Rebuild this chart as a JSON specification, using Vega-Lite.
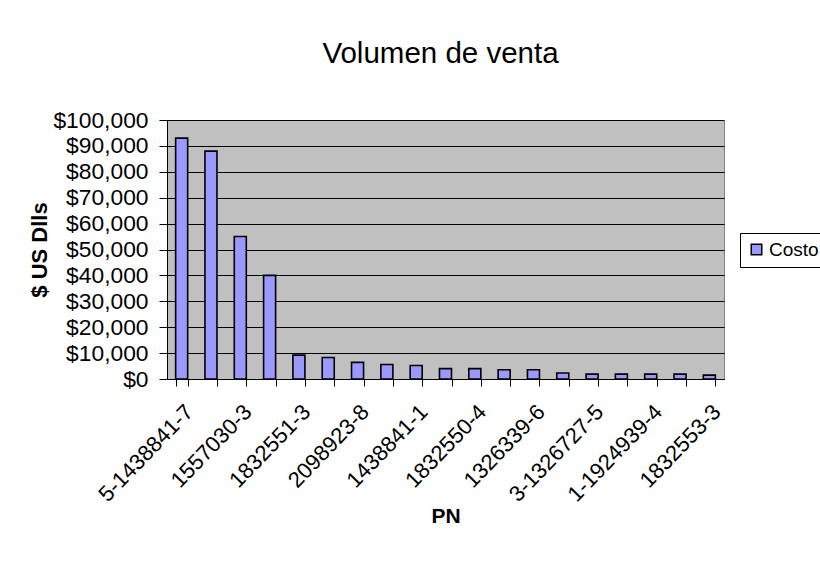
{
  "$schema": "https://vega.github.io/schema/vega-lite/v6.json",
  "autosize": {"type": "none"},
  "padding": {"left": 167, "top": 120, "right": 96, "bottom": 189},
  "width": 557,
  "height": 259,
  "background": "white",
  "title": {
    "text": "Volumen de venta",
    "font": "Liberation Sans",
    "fontSize": 29.5,
    "fontWeight": "normal",
    "color": "black",
    "anchor": "middle",
    "offset": 40,
    "dx": -5
  },
  "data": {
    "values": [
      {"pn": "5-1438841-7", "costo": 93000},
      {"pn": "#2", "costo": 88000},
      {"pn": "1557030-3", "costo": 55000},
      {"pn": "#4", "costo": 40000},
      {"pn": "1832551-3", "costo": 9200},
      {"pn": "#6", "costo": 8300},
      {"pn": "2098923-8", "costo": 6400},
      {"pn": "#8", "costo": 5600},
      {"pn": "1438841-1", "costo": 5200},
      {"pn": "#10", "costo": 4000},
      {"pn": "1832550-4", "costo": 4000},
      {"pn": "#12", "costo": 3600},
      {"pn": "1326339-6", "costo": 3600},
      {"pn": "#14", "costo": 2300},
      {"pn": "3-1326727-5", "costo": 1900},
      {"pn": "#16", "costo": 1900},
      {"pn": "1-1924939-4", "costo": 1900},
      {"pn": "#18", "costo": 1900},
      {"pn": "1832553-3", "costo": 1500}
    ]
  },
  "mark": {"type": "bar", "stroke": "black", "strokeWidth": 1.6},
  "encoding": {
    "x": {
      "field": "pn",
      "type": "nominal",
      "sort": null,
      "scale": {"paddingInner": 0.59, "paddingOuter": 0.295},
      "axis": {
        "title": "PN",
        "titleFont": "Liberation Sans",
        "titleFontSize": 21,
        "titleFontWeight": "bold",
        "titleColor": "black",
        "titlePadding": 0,
        "labelExpr": "indexof(datum.label, '#') == 0 ? '' : datum.label",
        "labelAngle": -46,
        "labelAlign": "right",
        "labelBaseline": "top",
        "labelFont": "Liberation Sans",
        "labelFontSize": 22,
        "labelColor": "black",
        "labelPadding": 15,
        "labelOverlap": false,
        "labelLimit": 0,
        "tickBand": "extent",
        "tickSize": 7,
        "tickColor": "black",
        "domainColor": "black",
        "domainWidth": 1
      }
    },
    "y": {
      "field": "costo",
      "type": "quantitative",
      "scale": {"domain": [0, 100000]},
      "axis": {
        "title": "$ US Dlls",
        "titleFont": "Liberation Sans",
        "titleFontSize": 22,
        "titleFontWeight": "bold",
        "titleColor": "black",
        "titlePadding": 1,
        "values": [0, 10000, 20000, 30000, 40000, 50000, 60000, 70000, 80000, 90000, 100000],
        "format": "$,.0f",
        "labelFont": "Liberation Sans",
        "labelFontSize": 22.8,
        "labelColor": "black",
        "labelPadding": 11,
        "labelOverlap": false,
        "tickSize": 8,
        "tickColor": "black",
        "domainColor": "black",
        "gridColor": "black",
        "gridWidth": 1,
        "gridOpacity": 1
      }
    },
    "color": {
      "datum": "Costo",
      "scale": {"range": ["#9999FF"]},
      "legend": {
        "title": null,
        "orient": "none",
        "legendX": 573,
        "legendY": 113,
        "strokeColor": "black",
        "fillColor": "white",
        "padding": 7,
        "symbolType": "square",
        "symbolSize": 110,
        "symbolStrokeColor": "black",
        "symbolStrokeWidth": 1.5,
        "symbolOpacity": 1,
        "labelFont": "Liberation Sans",
        "labelFontSize": 19,
        "labelColor": "black",
        "labelOffset": 3
      }
    }
  },
  "config": {
    "view": {"fill": "#C0C0C0", "stroke": "#808080", "strokeWidth": 1},
    "axisX": {"grid": false}
  }
}
